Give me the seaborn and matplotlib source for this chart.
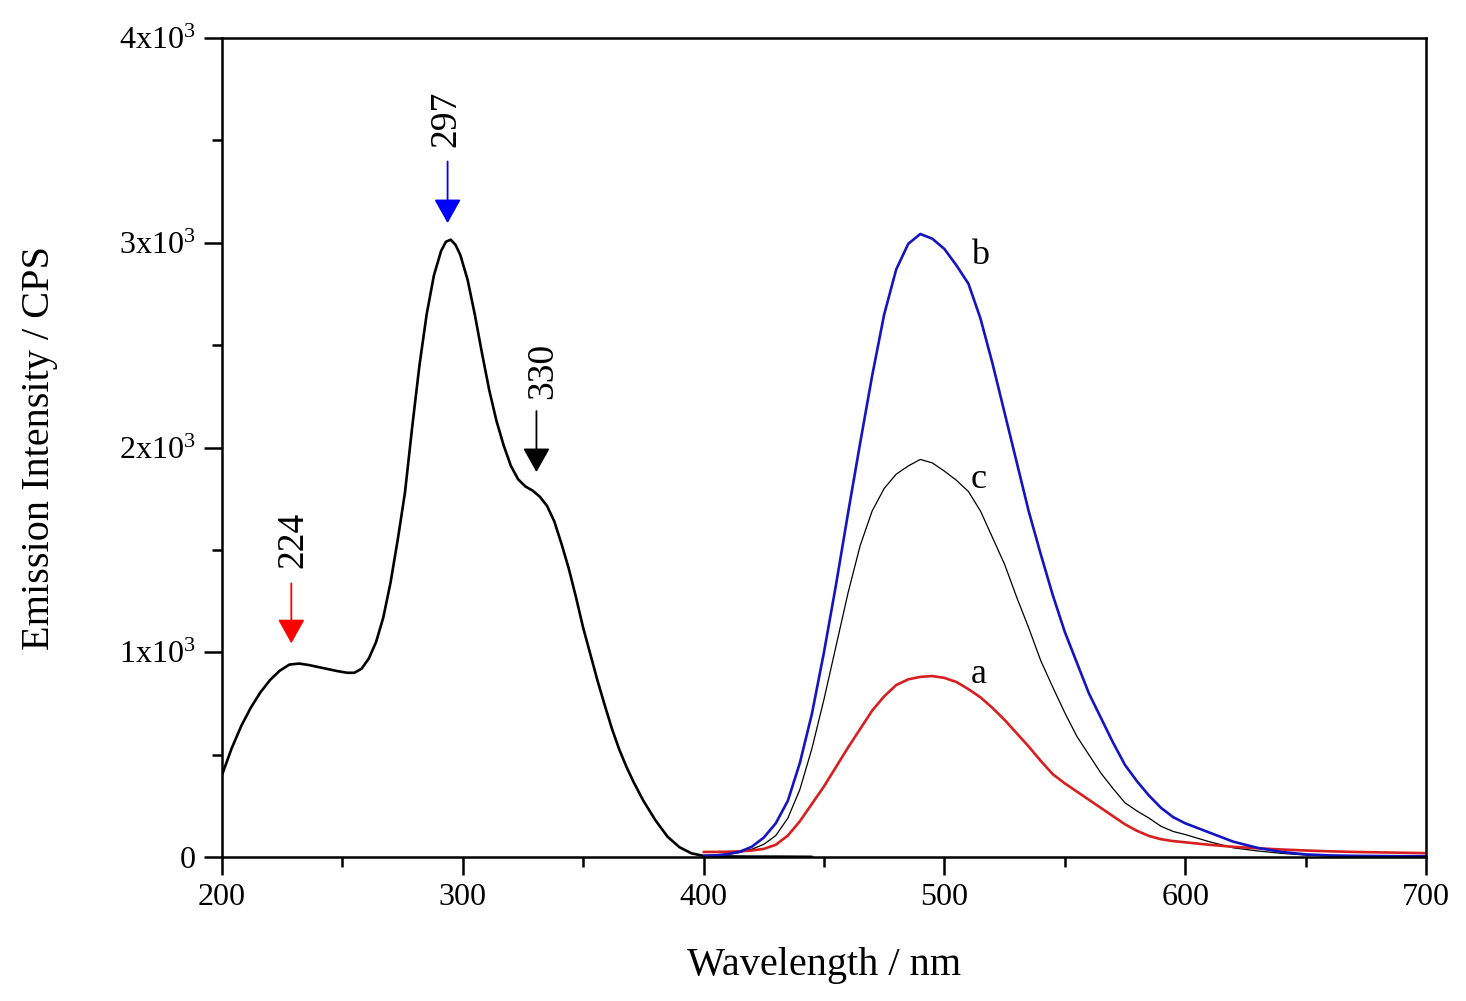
import numpy as np
import pandas as pd
import seaborn as sns
import matplotlib
matplotlib.use('Agg')
import matplotlib.pyplot as plt
from matplotlib.ticker import MultipleLocator, FixedLocator, FixedFormatter

# excitation spectrum (black)
ex_wl = [200, 204, 208, 212, 216, 220, 224, 228, 232, 236, 240, 244, 248, 252, 255,
         258, 261, 264, 267, 270, 273, 276, 279, 282, 285, 288, 291, 293, 295, 297,
         299, 302, 305, 308, 311, 314, 317, 320, 323, 326, 329, 332, 335, 338, 341,
         344, 347, 350, 353, 356, 359, 362, 365, 368, 371, 375, 380, 385, 390, 395,
         400, 410, 420, 430, 445]
ex_int = [400, 530, 640, 730, 805, 865, 910, 940, 945, 938, 928, 918, 908, 900, 900,
          920, 970, 1050, 1170, 1340, 1550, 1780, 2100, 2400, 2650, 2840, 2960, 3005, 3015, 2990,
          2940, 2820, 2650, 2460, 2280, 2130, 2010, 1910, 1845, 1810, 1790, 1760, 1715, 1640, 1530,
          1410, 1270, 1120, 990, 860, 740, 625, 525, 440, 365, 275, 180, 100, 48, 18,
          6, 3, 2, 2, 1]

# emission spectra
em_wl = [400, 405, 410, 415, 420, 425, 430, 435, 440, 445, 450, 455, 460, 465, 470,
         475, 480, 485, 490, 495, 500, 505, 510, 515, 520, 525, 530, 535, 540, 545,
         550, 555, 560, 565, 570, 575, 580, 585, 590, 595, 600, 610, 620, 630, 640,
         650, 660, 670, 680, 690, 700]
em_a = [25, 25, 26, 28, 32, 40, 60, 105, 175, 260, 345, 440, 535, 625, 715,
        785, 840, 868, 880, 884, 875, 855, 820, 780, 728, 670, 605, 540, 470, 405,
        360, 320, 280, 240, 200, 160, 128, 103, 87, 78, 72, 60, 50, 43, 37,
        32, 28, 25, 23, 21, 19]
em_b = [5, 8, 14, 26, 50, 95, 165, 275, 460, 700, 1000, 1330, 1680, 2020, 2350,
        2650, 2870, 2995, 3043, 3020, 2970, 2890, 2800, 2630, 2410, 2170, 1930, 1690, 1480, 1280,
        1100, 950, 800, 680, 560, 450, 370, 300, 240, 195, 165, 120, 75, 45, 25,
        13, 8, 6, 5, 4, 4]
em_c = [8, 10, 14, 22, 38, 62, 105, 190, 330, 530, 770, 1030, 1290, 1520, 1690,
        1800, 1870, 1910, 1942, 1925, 1885, 1840, 1785, 1690, 1560, 1430, 1270, 1120, 960, 830,
        705, 590, 500, 410, 335, 265, 225, 190, 150, 125, 110, 75, 45, 30, 18,
        10, 6, 4, 3, 3, 3]

# peak markers: wavelength label, arrow x, arrow top, arrow tip, text pos, colour
peak_labels = ['224', '297', '330']
peak_x = [228.8, 293.7, 330.6]
peak_top = [1337, 3397, 2178]
peak_tip = [1044, 3096, 1880]
peak_text_x = [229.7, 293.3, 333.2]
peak_text_y = [1551, 3604, 2373]
peak_colors = ['#ff0000', '#0000ff', '#000000']

curve_labels = ['a', 'b', 'c']
curve_label_y = [850, 2895, 1800]

sns.set_style('ticks')
plt.rcParams['font.family'] = ['Liberation Serif', 'DejaVu Serif']
plt.rcParams['mathtext.fontset'] = 'custom'
plt.rcParams['mathtext.rm'] = 'Liberation Serif'
plt.rcParams['mathtext.it'] = 'Liberation Serif:italic'
plt.rcParams['text.color'] = 'black'
plt.rcParams['axes.labelcolor'] = 'black'
plt.rcParams['xtick.color'] = 'black'
plt.rcParams['ytick.color'] = 'black'

fig = plt.figure(figsize=(14.66, 10.01), dpi=100)
ax = fig.add_axes([0.1514, 0.1438, 0.8213, 0.8182])

sns.lineplot(x=ex_wl, y=ex_int, ax=ax, color='black', lw=1.9, sort=False)
sns.lineplot(x=em_wl, y=em_c, ax=ax, color='black', lw=0.9, sort=False)
sns.lineplot(x=em_wl, y=em_a, ax=ax, color='#d81e1e', lw=1.9, sort=False)
sns.lineplot(x=em_wl, y=em_b, ax=ax, color='#1414c0', lw=1.9, sort=False)

for lab, x, y0, y1, tx, ty, col in zip(peak_labels, peak_x, peak_top, peak_tip,
                                       peak_text_x, peak_text_y, peak_colors):
    ax.annotate('', xy=(x, y1), xytext=(x, y0),
                arrowprops=dict(arrowstyle='-|>,head_length=0.75,head_width=0.42',
                                mutation_scale=20, color=col, lw=1.3,
                                shrinkA=0, shrinkB=0))
    ax.text(tx, ty, lab, rotation=90, ha='center', va='center', fontsize=27)

for lab, y in zip(curve_labels, curve_label_y):
    ax.text(511, y, lab, ha='left', va='baseline', fontsize=26)

ax.set_xlim(200, 700)
ax.set_ylim(0, 4000)
ax.xaxis.set_major_locator(MultipleLocator(100))
ax.xaxis.set_minor_locator(MultipleLocator(50))
ax.yaxis.set_major_locator(FixedLocator([0, 1000, 2000, 3000, 4000]))
ax.yaxis.set_major_formatter(FixedFormatter(['0', r'1x10$^{3}$', r'2x10$^{3}$',
                                             r'3x10$^{3}$', r'4x10$^{3}$']))
ax.yaxis.set_minor_locator(MultipleLocator(500))

ax.tick_params(which='major', direction='out', length=13, width=1.8, labelsize=23,
               top=False, right=False, pad=6, colors='black')
ax.tick_params(which='minor', direction='out', length=7, width=1.8,
               top=False, right=False, colors='black')
for s in ax.spines.values():
    s.set_visible(True)
    s.set_linewidth(1.8)
    s.set_color('black')

ax.set_xlabel('Wavelength / nm', fontsize=29, labelpad=25)
ax.set_ylabel('Emission Intensity / CPS', fontsize=29, labelpad=44)

fig.savefig('out.png', dpi=100, facecolor='white')
